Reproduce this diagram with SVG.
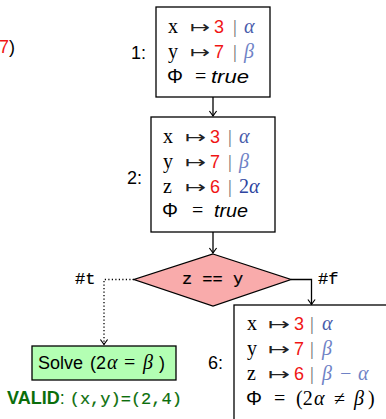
<svg xmlns="http://www.w3.org/2000/svg" width="386" height="419" viewBox="0 0 386 419">
<style>
.box{fill:#fff;stroke:#000;stroke-width:1.3}
.mono{font-family:"Liberation Mono","DejaVu Sans Mono",monospace;font-size:17px;fill:#000;stroke:#000;stroke-width:0.2}
.var{font-family:"Liberation Serif",serif;font-size:20px;fill:#000}
.sans{font-family:"Liberation Sans",Arial,sans-serif;font-size:18px;fill:#000}
.red{font-family:"Liberation Sans",Arial,sans-serif;font-size:18px;fill:#f01414}
.map{font-family:"DejaVu Sans",sans-serif;font-size:17px;fill:#222}
.bar{font-family:"Liberation Serif",serif;font-size:19px;fill:#6a6a6a}
.gk{font-family:"Liberation Serif",serif;font-style:italic;font-size:20px;fill:#4a5cab}
.gk2{font-family:"Liberation Serif",serif;font-style:italic;font-size:20px;fill:#6f82c6}
.bl{font-family:"Liberation Serif",serif;font-size:20px;fill:#2e44a0}
.eq{font-family:"Liberation Serif",serif;font-size:20px;fill:#000}
.it{font-family:"Liberation Sans",Arial,sans-serif;font-style:italic;font-size:18px;fill:#000}
.lbl{font-family:"Liberation Sans",Arial,sans-serif;font-size:18px;fill:#000}
.phi{font-family:"Liberation Sans",Arial,sans-serif;font-size:20px;fill:#000}
.conn{fill:none;stroke:#000;stroke-width:1.3}
.dot{fill:none;stroke:#000;stroke-width:1.3;stroke-dasharray:1.2 2.3}
</style>
<defs>
<marker id="arr" markerUnits="userSpaceOnUse" markerWidth="12" markerHeight="12" viewBox="-6 -6 12 12" refX="0" refY="0" orient="auto">
<path d="M-5,-3.6 Q-1.5,-1 0,0 Q-1.5,1 -5,3.6" fill="none" stroke="#000" stroke-width="1.2"/>
</marker>
</defs>

<g id="fragment">
<text x="-1" y="53" class="red">7<tspan class="sans">)</tspan></text>
</g>

<g id="connectors">
<path class="conn" d="M213,97 L213,116" marker-end="url(#arr)"/>
<path class="conn" d="M213,232 L213,253" marker-end="url(#arr)"/>
<path class="conn" d="M291,279.5 L311.5,279.5 L311.5,304.5" marker-end="url(#arr)"/>
<path class="dot" d="M134,279.5 L104,279.5 L104,344.5" marker-end="url(#arr)"/>
</g>

<g id="node1">
<rect class="box" x="156" y="7" width="114" height="90"/>
<text class="lbl" x="131" y="59">1:</text>
<text class="var" x="168" y="33">x</text>
<text class="map" x="190" y="33" textLength="20" lengthAdjust="spacingAndGlyphs">↦</text>
<text class="red" x="214" y="33">3</text>
<text class="bar" x="233" y="33">|</text>
<text class="gk" x="244" y="33">α</text>
<text class="var" x="168" y="58">y</text>
<text class="map" x="190" y="58" textLength="20" lengthAdjust="spacingAndGlyphs">↦</text>
<text class="red" x="214" y="58">7</text>
<text class="bar" x="233" y="58">|</text>
<text class="gk2" x="244" y="58">β</text>
<text class="phi" x="167" y="83">Φ</text>
<text class="eq" x="195" y="83">=</text>
<text class="it" x="211" y="83" textLength="38" lengthAdjust="spacingAndGlyphs">true</text>
</g>

<g id="node2">
<rect class="box" x="151" y="117" width="124" height="115"/>
<text class="lbl" x="127" y="184">2:</text>
<text class="var" x="163" y="143">x</text>
<text class="map" x="185" y="143" textLength="21" lengthAdjust="spacingAndGlyphs">↦</text>
<text class="red" x="210" y="143">3</text>
<text class="bar" x="228" y="143">|</text>
<text class="gk" x="239" y="143">α</text>
<text class="var" x="163" y="168">y</text>
<text class="map" x="185" y="168" textLength="21" lengthAdjust="spacingAndGlyphs">↦</text>
<text class="red" x="210" y="168">7</text>
<text class="bar" x="228" y="168">|</text>
<text class="gk2" x="239" y="168">β</text>
<text class="var" x="163" y="193">z</text>
<text class="map" x="185" y="193" textLength="21" lengthAdjust="spacingAndGlyphs">↦</text>
<text class="red" x="210" y="193">6</text>
<text class="bar" x="228" y="193">|</text>
<text class="bl" x="239" y="193">2<tspan font-style="italic">α</tspan></text>
<text class="phi" x="162" y="217">Φ</text>
<text class="eq" x="192" y="217">=</text>
<text class="it" x="214" y="217" textLength="34" lengthAdjust="spacingAndGlyphs">true</text>
</g>

<g id="decision">
<polygon points="213,254 291,279.5 213,306 134,279.5" fill="#f9abab" stroke="#000" stroke-width="1.3"/>
<text class="mono" x="212.5" y="284" text-anchor="middle" xml:space="preserve">z == y</text>
<text class="mono" x="75" y="284">#t</text>
<text class="mono" x="318" y="284">#f</text>
</g>

<g id="solve">
<rect x="32" y="346" width="144" height="34" fill="#b3ffb3" stroke="#000" stroke-width="1.3"/>
<text class="sans" x="38" y="369">Solve</text>
<text class="sans" x="90" y="369">(2</text>
<text class="eq" x="107" y="369" font-style="italic">α</text>
<text class="eq" x="124" y="369">=</text>
<text class="eq" x="143" y="369" font-style="italic">β</text>
<text class="sans" x="159" y="369">)</text>
<text x="7" y="404" font-family="Liberation Sans,Arial,sans-serif" font-size="18" fill="#0b6e0b"><tspan font-weight="bold">VALID</tspan>: <tspan font-family="Liberation Mono,monospace" font-size="17" stroke="#0b6e0b" stroke-width="0.2">(x,y)=(2,4)</tspan></text>
</g>

<g id="node6">
<rect class="box" x="234" y="305" width="200" height="130"/>
<text class="lbl" x="208" y="369">6:</text>
<text class="var" x="247" y="330">x</text>
<text class="map" x="268" y="330" textLength="22" lengthAdjust="spacingAndGlyphs">↦</text>
<text class="red" x="294" y="330">3</text>
<text class="bar" x="310" y="330">|</text>
<text class="gk" x="322" y="330">α</text>
<text class="var" x="247" y="355">y</text>
<text class="map" x="268" y="355" textLength="22" lengthAdjust="spacingAndGlyphs">↦</text>
<text class="red" x="294" y="355">7</text>
<text class="bar" x="310" y="355">|</text>
<text class="gk2" x="322" y="355">β</text>
<text class="var" x="247" y="380">z</text>
<text class="map" x="268" y="380" textLength="22" lengthAdjust="spacingAndGlyphs">↦</text>
<text class="red" x="294" y="380">6</text>
<text class="bar" x="310" y="380">|</text>
<text class="gk2" x="322" y="380">β</text>
<text class="gk2" x="339" y="380" font-style="normal">−</text>
<text class="gk2" x="358" y="380">α</text>
<text class="phi" x="246" y="405">Φ</text>
<text class="eq" x="274" y="405">=</text>
<text class="eq" x="296" y="405">(2</text>
<text class="eq" x="314" y="405" font-style="italic">α</text>
<text class="eq" x="334" y="405">≠</text>
<text class="eq" x="354" y="405" font-style="italic">β</text>
<text class="eq" x="368" y="405">)</text>
</g>
</svg>
